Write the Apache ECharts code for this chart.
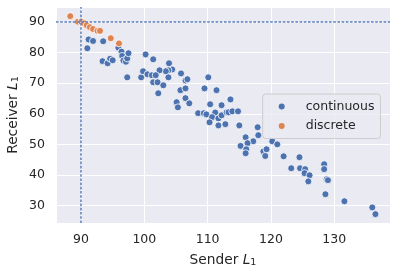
<!DOCTYPE html>
<html><head><meta charset="utf-8">
<script src="https://cdn.jsdelivr.net/npm/echarts@6/dist/echarts.min.js"></script>
<style>html,body{margin:0;padding:0;background:#fff}#c{width:396px;height:275px}</style>
</head><body><div id="c"></div>
<script>
const contX = [91.2,91.9,91.0,93.5,93.4,94.2,94.6,95.0,95.9,96.4,96.5,96.7,97.1,97.3,97.5,97.3,99.5,100.2,101.4,103.9,104.4,103.8,103.4,102.4,99.8,100.5,101.2,101.8,101.4,102.1,103.0,102.2,103.8,105.8,106.5,106.8,105.7,106.5,105.1,105.3,106.5,107.1,110.1,109.5,111.4,110.4,112.2,113.6,108.5,109.4,109.8,111.2,110.7,110.3,111.7,112.2,111.7,112.8,113.0,113.3,113.9,114.8,115.0,117.9,118.0,116.0,117.2,116.3,115.2,116.1,116.0,118.8,119.3,119.1,120.2,121.0,122.0,123.2,124.5,124.6,125.4,125.3,126.1,125.9,128.4,128.4,128.8,129.0,128.6,131.6,136.0,136.5];
const contY = [84.3,83.8,81.4,83.7,77.2,76.5,78.0,77.5,81.6,80.3,78.9,77.4,77.0,78.1,79.8,71.9,71.9,79.4,77.8,76.5,74.5,74.2,73.9,74.2,73.9,72.9,72.6,72.6,70.3,70.3,69.3,66.7,71.9,73.2,70.9,71.3,67.7,68.3,63.8,62.1,65.1,63.4,71.9,68.3,67.7,63.1,62.8,64.7,60.2,60.2,59.8,60.4,58.9,57.2,58.5,59.5,56.2,56.6,60.5,60.5,60.8,60.8,56.2,55.6,53.0,52.3,51.0,50.4,49.5,48.4,47.1,47.7,48.4,46.2,51.0,50.0,46.1,42.2,45.8,42.2,41.9,40.6,39.9,37.9,43.5,41.9,38.6,38.3,33.7,31.4,29.4,27.2];
const discX = [88.3,89.5,90.05,90.5,90.9,91.4,91.9,92.6,93.0,94.7,96.0];
const discY = [91.9,90.1,90.1,89.6,88.9,88.3,87.7,87.1,87.1,84.7,83.0];
const seriesNames = ['continuous','discrete'];
const refX = 90, refY = 90;

const contData = contX.map((x,i)=>[x,contY[i]]);
const discData = discX.map((x,i)=>[x,discY[i]]);
const FONT = 'DejaVu Sans';
const chart = echarts.init(document.getElementById('c'), null, {renderer:'canvas'});
const tickFmt = v => (Math.abs(v % 10) < 1e-9 ? String(v) : '');
const nameStyle = {fontSize:13.75,color:'#262626',fontFamily:FONT,
  rich:{i:{fontStyle:'italic',fontSize:13.75,fontFamily:FONT,color:'#262626'},s:{fontSize:9.5,fontFamily:FONT,color:'#262626',verticalAlign:'bottom',padding:[6,0,0,0]}}};
chart.setOption({
  animation:false,
  textStyle:{fontFamily:FONT,color:'#262626'},
  grid:{left:56,right:6,top:7,bottom:52,show:true,backgroundColor:'#eaeaf2',borderWidth:0,containLabel:false,outerBoundsMode:'none'},
  xAxis:{type:'value',min:86.05,max:138.8,splitNumber:5,
    axisLine:{show:false},axisTick:{show:false},
    splitLine:{lineStyle:{color:'#ffffff',width:1}},
    axisLabel:{formatter:tickFmt,fontSize:12.5,color:'#262626',margin:10,fontFamily:FONT,showMinLabel:false,showMaxLabel:false},
    name:'Sender {i|L}{s|1}',nameLocation:'middle',nameGap:29,nameTextStyle:nameStyle},
  yAxis:{type:'value',min:24.3,max:94.9,splitNumber:7,
    axisLine:{show:false},axisTick:{show:false},
    splitLine:{lineStyle:{color:'#ffffff',width:1}},
    axisLabel:{formatter:tickFmt,fontSize:12.5,color:'#262626',margin:11,fontFamily:FONT,showMinLabel:false,showMaxLabel:false},
    name:'Receiver {i|L}{s|1}',nameLocation:'middle',nameGap:35,nameMoveOverlap:false,nameTextStyle:nameStyle},
  legend:{orient:'vertical',left:262.7,top:94,padding:[6,6,6,16],itemGap:6.5,
    itemWidth:6,itemHeight:6,icon:'circle',
    itemStyle:{borderWidth:0},
    backgroundColor:'rgba(234,234,242,0.8)',borderColor:'#cccccc',borderWidth:1,borderRadius:3,
    textStyle:{fontSize:12.5,color:'#262626',fontFamily:FONT,padding:[0,0,0,16]},
    data:seriesNames},
  series:[
    {name:seriesNames[0],type:'scatter',data:contData,symbolSize:7,
      itemStyle:{color:'#4c72b0',borderColor:'#ffffff',borderWidth:0.8,opacity:1},
      markLine:{silent:true,symbol:'none',label:{show:false},
        lineStyle:{color:'#5b7fbb',width:1.5,type:[2.6,1.6]},
        data:[{xAxis:refX},{yAxis:refY}]}},
    {name:seriesNames[1],type:'scatter',data:discData,symbolSize:7,
      itemStyle:{color:'#dd8452',borderColor:'#ffffff',borderWidth:0.8,opacity:1}}
  ]
});
</script></body></html>
